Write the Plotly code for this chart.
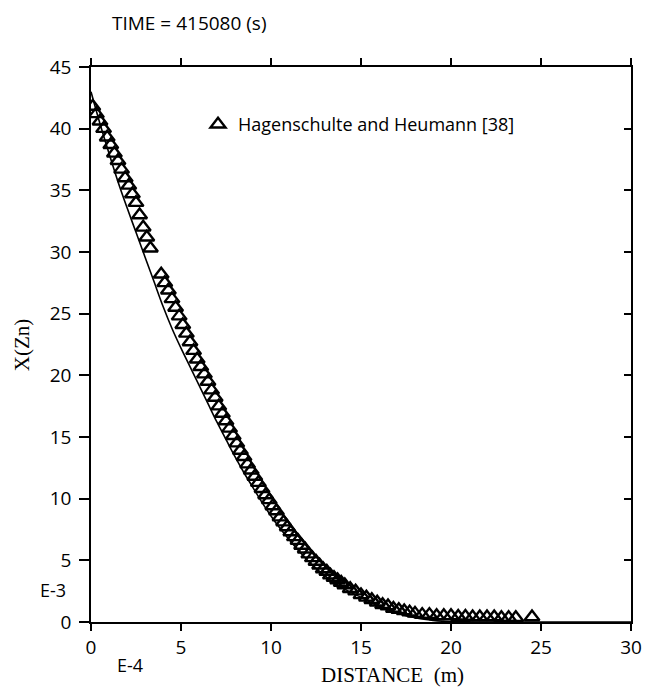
import plotly.graph_objects as go

# ---- data ----
line_x = [0, 0.5, 1.0, 1.5, 2.0, 2.5, 3.0, 3.5, 4.0, 4.5, 5.0, 5.5, 6.0, 6.5, 7.0, 7.5,
          8.0, 8.5, 9.0, 9.5, 10.0, 10.5, 11.0, 11.5, 12.0, 12.5, 13.0, 13.5, 14.0, 14.5,
          15.0, 15.5, 16.0, 16.5, 17.0, 17.5, 18.0, 18.5, 19.0, 19.5, 20.0, 21.0, 22.0, 30.0]
line_y = [43.0, 40.4, 38.0, 35.7, 33.6, 31.6, 29.6, 27.6, 25.6, 23.8, 22.2, 20.7, 19.2, 17.7,
          16.2, 14.8, 13.4, 12.1, 10.9, 9.7, 8.6, 7.6, 6.7, 5.85, 5.05, 4.35, 3.75, 3.2, 2.75,
          2.35, 2.0, 1.62, 1.28, 1.0, 0.75, 0.5, 0.35, 0.22, 0.13, 0.07, 0.04, 0.01, 0.0, 0.0]

meas_x = [0.1, 0.3, 0.5, 0.7, 0.9, 1.1, 1.3, 1.5, 1.7, 1.9, 2.1, 2.3, 2.5, 2.7, 2.9, 3.1, 3.3,
          3.9, 4.1, 4.3, 4.5, 4.7, 4.9, 5.1, 5.3, 5.5, 5.7, 5.9, 6.1, 6.3, 6.5, 6.7, 6.9,
          7.1, 7.3, 7.5, 7.7, 7.9, 8.1, 8.3, 8.5, 8.7, 8.9, 9.1, 9.3, 9.5, 9.7, 9.9,
          10.1, 10.3, 10.5, 10.7, 10.9, 11.1, 11.3, 11.5, 11.7, 11.9, 12.1, 12.3, 12.5,
          12.7, 12.9, 13.1, 13.3, 13.5, 13.7, 13.9, 14.1, 14.4, 14.7, 15.0, 15.3, 15.6,
          15.9, 16.2, 16.5, 16.8, 17.1, 17.4, 17.7, 18.0, 18.4, 18.8, 19.2, 19.6, 20.0,
          20.4, 20.8, 21.2, 21.6, 22.0, 22.4, 22.8, 23.2, 23.6, 24.5]
meas_y = [41.8, 41.2, 40.6, 40.0, 39.3, 38.7, 38.0, 37.4, 36.7, 36.0, 35.4, 34.7, 34.0, 33.0,
          32.0, 31.2, 30.3,
          28.2, 27.5, 26.9, 26.2, 25.5, 24.8, 24.1, 23.4, 22.7, 22.0, 21.3, 20.7, 20.1, 19.5,
          18.8, 18.2, 17.5, 16.9, 16.3, 15.7, 15.1, 14.5, 13.9, 13.4, 12.8, 12.3, 11.8, 11.3,
          10.8, 10.3, 9.9, 9.4, 9.0, 8.5, 8.1, 7.7, 7.3, 6.9, 6.6, 6.2, 5.9, 5.5, 5.2, 4.9,
          4.6, 4.3, 4.1, 3.8, 3.6, 3.4, 3.2, 3.0, 2.7, 2.5, 2.2, 2.0, 1.8, 1.6, 1.4, 1.3,
          1.1, 1.0, 0.9, 0.8, 0.7, 0.6, 0.6, 0.5, 0.5, 0.5, 0.45, 0.45, 0.4, 0.4, 0.4, 0.4,
          0.35, 0.35, 0.35, 0.4]

x_ticks = [0, 5, 10, 15, 20, 25, 30]
y_ticks = [0, 5, 10, 15, 20, 25, 30, 35, 40, 45]

# ---- layout helpers (pixel -> paper) ----
L, R, T, B = 91, 641, 67, 622
def px(x):
    return (x - L) / (R - L)
def py(y):
    return (B - y) / (B - T)

SANS = "Open Sans"
SERIF = "Liberation Serif"

fig = go.Figure()
fig.add_trace(go.Scatter(x=line_x, y=line_y, mode="lines", line_shape="spline",
                         line=dict(color="black", width=1.6), showlegend=False))
fig.add_trace(go.Scatter(x=meas_x, y=meas_y, mode="markers",
                         name="Hagenschulte and Heumann [38]",
                         marker=dict(symbol="triangle-up-open", size=13, color="black",
                                     line=dict(width=2.4, color="black"))))
# overlay axis for inward ticks on the right
fig.add_trace(go.Scatter(x=[], y=[], xaxis="x", yaxis="y2", showlegend=False))

axis_common = dict(showgrid=False, zeroline=False, linecolor="black", linewidth=1.5,
                   tickcolor="black", tickwidth=1.5,
                   tickfont=dict(family=SANS, size=19, color="black"))

def ann(text, x, y, font, angle=0):
    return dict(text=text, x=px(x), y=py(y), xref="paper", yref="paper",
                xanchor="center", yanchor="middle", showarrow=False,
                textangle=angle, font=font)

fig.update_layout(
    width=654, height=692,
    margin=dict(l=L, r=654 - R, t=T, b=692 - B),
    paper_bgcolor="white", plot_bgcolor="white",
    xaxis=dict(range=[0, 30], tickvals=x_ticks, ticks="outside", ticklen=7,
               mirror="ticks", showline=True, **axis_common),
    yaxis=dict(range=[0, 45], tickvals=y_ticks, ticks="outside", ticklen=10,
               ticklabelstandoff=4,
               mirror=True, showline=True, **axis_common),
    yaxis2=dict(range=[0, 45], tickvals=y_ticks, ticks="inside", ticklen=7,
                overlaying="y", side="right", showticklabels=False,
                showgrid=False, zeroline=False, showline=False,
                tickcolor="black", tickwidth=1.5),
    showlegend=True,
    legend=dict(x=px(200), y=py(106), xanchor="left", yanchor="top",
                bgcolor="rgba(0,0,0,0)", itemwidth=30,
                font=dict(family=SANS, size=18, color="black")),
    annotations=[
        ann("TIME = 415080 (s)", 191, 23, dict(family=SANS, size=19, color="black")),
        ann("E-3", 52, 590, dict(family=SANS, size=18, color="black")),
        ann("E-4", 131, 665, dict(family=SANS, size=18, color="black")),
        ann("DISTANCE  (m)", 398, 675, dict(family=SERIF, size=21, color="black")),
        ann("X(Zn)", 21, 345, dict(family=SERIF, size=21, color="black"), angle=-90),
    ],
)

fig.write_html("out.html")
